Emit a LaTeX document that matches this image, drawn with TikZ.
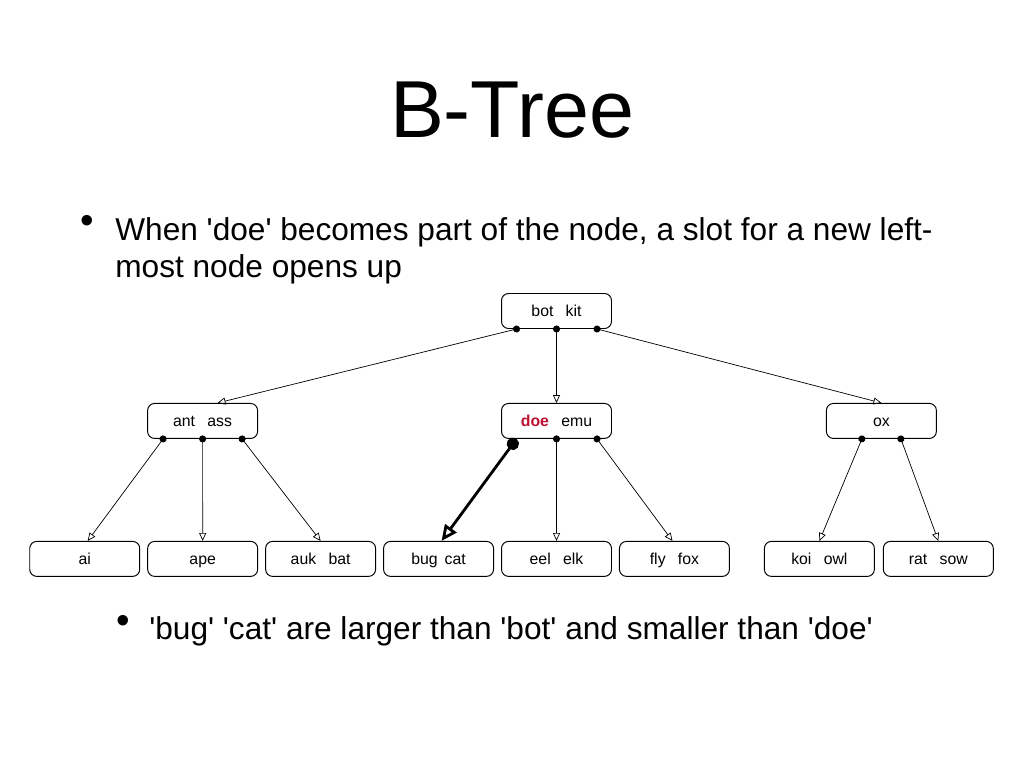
\documentclass[tikz,border=0pt]{standalone}
\usepackage{fontspec}
\setmainfont{Liberation Sans}
\usetikzlibrary{arrows.meta, calc, positioning}
\definecolor{dred}{RGB}{190,16,48}
\newcommand{\sq}{\textquotesingle}

\begin{document}
\begin{tikzpicture}[x=0.02cm, y=-0.02cm,
    key/.style={draw, rounded corners=4pt, line width=0.55pt, minimum width=2.2cm,
      minimum height=0.7cm, inner sep=0pt, text height=7.6pt, text depth=1pt,
      font=\fontsize{9}{10}\selectfont},
    link/.style={{Circle[length=4pt]}-{Triangle[open, length=4.5pt, width=4pt]},
      line width=0.4pt, shorten <=-2pt},
    hot/.style={{Circle[length=7pt]}-{Triangle[open, length=9pt, width=8pt]},
      line width=1.6pt},
    point/.style={font=\fontsize{18}{21}\selectfont, anchor=base west, inner sep=0pt},
    dot/.style={font=\fontsize{22}{22}\selectfont, inner sep=0pt}
  ]
    \fill[white] (0,0) rectangle (1024,768);
    \useasboundingbox (0,0) rectangle (1024,768);
    % heading and remarks
    \node[font=\fontsize{46}{50}\selectfont, anchor=base, inner sep=0pt] (title)
      at (512,137) {B-Tree};
    \node[dot] (d1) at (87,224) {•};
    \node[point] (t1) at (115,240)
      {When \sq doe\sq{} becomes part of the node, a slot for a new left-};
    \node[point] (t2) at (115,277) {most node opens up};
    \node[dot] (d2) at (123,624) {•};
    \node[point] (t3) at (149,639)
      {\sq bug\sq{} \sq cat\sq{} are larger than \sq bot\sq{} and smaller than \sq doe\sq};
    % tree
    \node[key] (root) at (556.5,311) {bot\hspace{7pt}kit};
    \node[key, below=1.48cm of root] (doe)
      {\textcolor{dred}{\textbf{doe}}\hspace{7pt}emu};
    \node[key, left=4.86cm of doe] (ant) {ant\hspace{7pt}ass};
    \node[key, right=4.28cm of doe] (ox) {ox};
    \node[key, below=2.04cm of doe] (eel) {eel\hspace{7pt}elk};
    \node[key, right=0.14cm of eel] (fly) {fly\hspace{7pt}fox};
    \node[key, left=0.14cm of eel] (bug) {bug\hspace{4pt}cat};
    \node[key, left=0.14cm of bug] (auk) {auk\hspace{7pt}bat};
    \node[key, left=0.14cm of auk] (ape) {ape};
    \node[key, left=0.14cm of ape] (ai) {ai};
    \node[key, right=0.68cm of fly] (koi) {koi\hspace{7pt}owl};
    \node[key, right=0.16cm of koi] (rat) {rat\hspace{7pt}sow};
    % links
    \draw[link] ($(root.south)+(-40,0)$) -- ($(ant.north)+(15,0)$);
    \draw[link] (root.south) -- (doe.north);
    \draw[link] ($(root.south)+(40.5,0)$) -- (ox.north);
    \draw[link] ($(ant.south)+(-39.5,0)$) -- ($(ai.north)+(3,0)$);
    \draw[link] (ant.south) -- (ape.north);
    \draw[link] ($(ant.south)+(39.5,0)$) -- (auk.north);
    \draw[hot] ($(doe.south)+(-40,0)$) -- ($(bug.north)+(3,0)$);
    \draw[link] (doe.south) -- (eel.north);
    \draw[link] ($(doe.south)+(40.5,0)$) -- ($(fly.north)+(-2,0)$);
    \draw[link] ($(ox.south)+(-19.5,0)$) -- (koi.north);
    \draw[link] ($(ox.south)+(19.5,0)$) -- (rat.north);
  \end{tikzpicture}
\end{document}
